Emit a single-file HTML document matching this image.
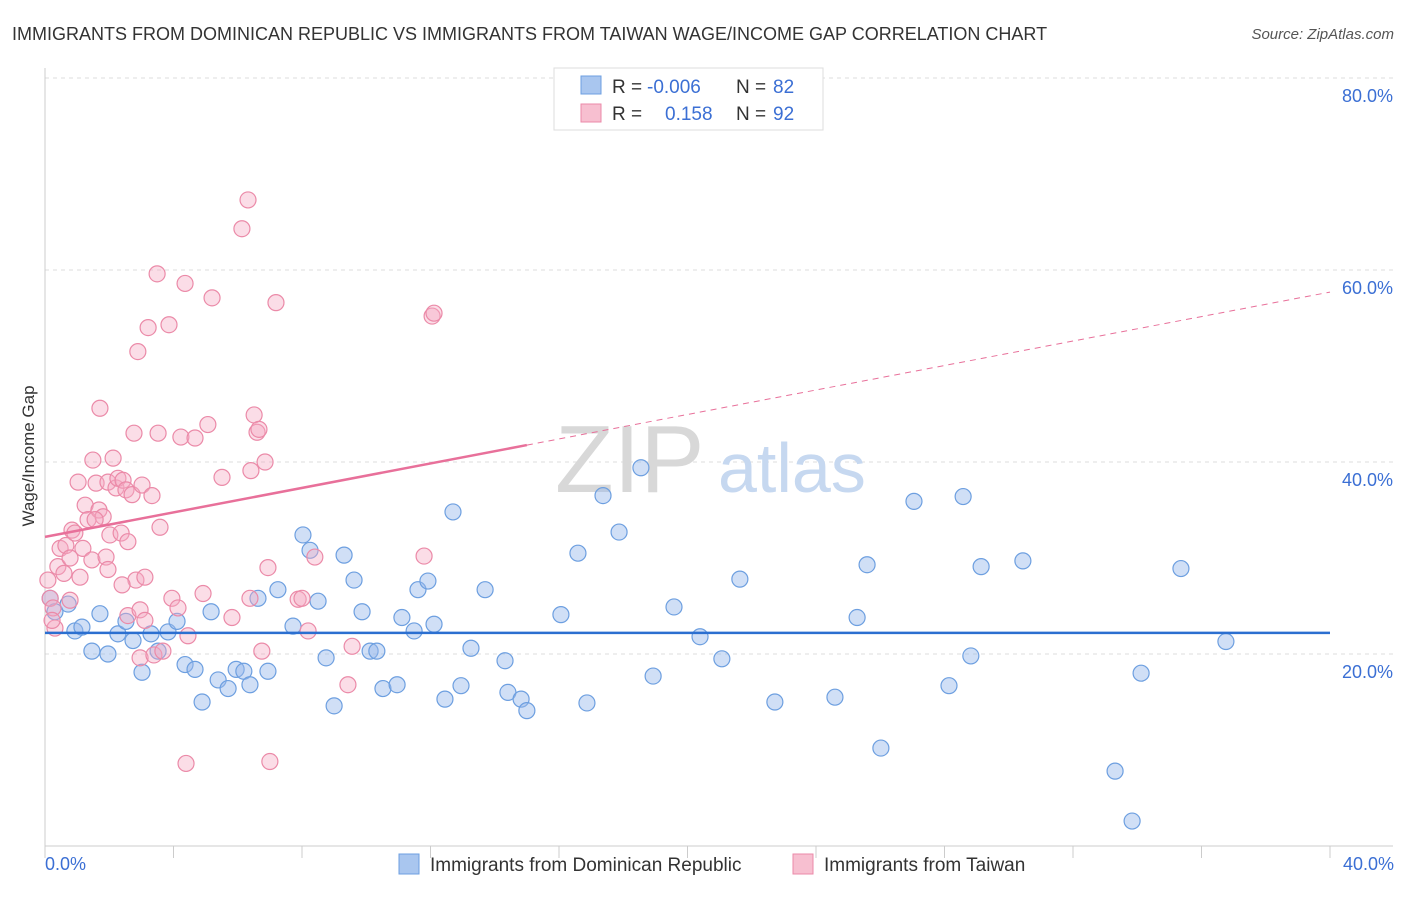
<!DOCTYPE html>
<html><head><meta charset="utf-8"><style>
body{margin:0;background:#fff;font-family:"Liberation Sans",sans-serif;}
svg text{font-family:"Liberation Sans",sans-serif;}
</style></head><body>
<svg id="chart" width="1406" height="892" xmlns="http://www.w3.org/2000/svg">
<text x="12" y="40" font-size="18" fill="#333">IMMIGRANTS FROM DOMINICAN REPUBLIC VS IMMIGRANTS FROM TAIWAN WAGE/INCOME GAP CORRELATION CHART</text>
<text x="1394" y="39" font-size="15" fill="#555" text-anchor="end" font-style="italic">Source: ZipAtlas.com</text>
<g id="grid"></g>
<g id="axes"></g>
<text x="555" y="492" font-size="96" fill="#d8d8d8" font-family="Liberation Serif">ZIP</text>
<text x="718" y="492" font-size="70" fill="#c6d8f0">atlas</text>
<g id="pts"></g>
<g id="trends"></g>
<text transform="translate(34,456) rotate(-90)" font-size="17" fill="#333" text-anchor="middle">Wage/Income Gap</text>
<text x="45" y="870" font-size="18" fill="#3b6fd4">0.0%</text>
<text x="1394" y="870" font-size="18" fill="#3b6fd4" text-anchor="end">40.0%</text>
<g>
<rect x="554" y="68" width="269" height="62" fill="#fff" stroke="#ddd"/>
<rect x="581" y="76" width="20" height="18" fill="#a9c6ef" stroke="#6d9fe0"/>
<rect x="581" y="104" width="20" height="18" fill="#f7bfd0" stroke="#eb8aa8"/>
<text x="612" y="93" font-size="19" fill="#333">R = </text><text x="647" y="93" font-size="19" fill="#3b6fd4">-0.006</text>
<text x="736" y="93" font-size="19" fill="#333">N = </text><text x="773" y="93" font-size="19" fill="#3b6fd4">82</text>
<text x="612" y="120" font-size="19" fill="#333">R = </text><text x="665" y="120" font-size="19" fill="#3b6fd4">0.158</text>
<text x="736" y="120" font-size="19" fill="#333">N = </text><text x="773" y="120" font-size="19" fill="#3b6fd4">92</text>
</g>
<g>
<rect x="399" y="854" width="20" height="20" fill="#a9c6ef" stroke="#6d9fe0"/>
<text x="430" y="871" font-size="19" fill="#333">Immigrants from Dominican Republic</text>
<rect x="793" y="854" width="20" height="20" fill="#f7bfd0" stroke="#eb8aa8"/>
<text x="824" y="871" font-size="19" fill="#333">Immigrants from Taiwan</text>
</g>
</svg>
<script>
const yTicks=[20,40,60,80];
const yTickLabels=["20.0%","40.0%","60.0%","80.0%"];
const xTicks=[0,4,8,12,16,20,24,28,32,36,40];
const blueX=[0.16,0.31,0.72,0.93,1.15,1.46,1.71,1.96,2.27,2.52,2.74,3.02,3.30,3.52,3.83,4.11,4.36,4.67,4.89,5.17,5.39,5.70,5.95,6.19,6.38,6.63,6.94,7.25,7.72,8.03,8.25,8.50,8.75,9.00,9.31,9.62,9.87,10.12,10.33,10.52,10.96,11.11,11.49,11.61,11.92,12.11,12.45,12.70,12.95,13.26,13.70,14.32,14.41,14.82,15.00,16.06,16.59,16.87,17.37,17.87,18.55,18.93,19.58,20.39,21.07,21.63,22.72,24.59,25.28,25.59,26.02,27.05,28.14,28.58,28.82,29.14,30.44,33.31,33.84,34.12,35.36,36.76];
const blueY=[25.8,24.4,25.2,22.4,22.8,20.3,24.2,20.0,22.1,23.4,21.4,18.1,22.1,20.3,22.3,23.4,18.9,18.4,15.0,24.4,17.3,16.4,18.4,18.2,16.8,25.8,18.2,26.7,22.9,32.4,30.8,25.5,19.6,14.6,30.3,27.7,24.4,20.3,20.3,16.4,16.8,23.8,22.4,26.7,27.6,23.1,15.3,34.8,16.7,20.6,26.7,19.3,16.0,15.3,14.1,24.1,30.5,14.9,36.5,32.7,39.4,17.7,24.9,21.8,19.5,27.8,15.0,15.5,23.8,29.3,10.2,35.9,16.7,36.4,19.8,29.1,29.7,7.8,2.6,18.0,28.9,21.3];
const pinkX=[0.09,0.16,0.25,0.31,0.40,0.47,0.59,0.65,0.78,0.84,0.93,1.03,1.09,1.18,1.25,1.34,1.46,1.49,1.59,1.68,1.71,1.81,1.90,1.96,2.02,2.12,2.21,2.27,2.37,2.43,2.52,2.58,2.71,2.77,2.83,2.89,2.96,3.02,3.11,3.21,3.33,3.39,3.49,3.52,3.58,3.67,3.86,3.95,4.14,4.23,4.36,4.45,4.67,4.92,5.07,5.20,5.51,5.82,6.13,6.32,6.38,6.41,6.51,6.60,6.66,6.75,6.85,6.94,7.00,7.19,7.88,8.00,8.19,8.40,9.43,9.56,11.80,12.05,12.11,4.39,2.58,2.96,1.96,2.40,1.56,0.78,3.11,0.22];
const pinkY=[27.7,25.8,24.8,22.7,29.1,31.0,28.4,31.3,30.0,32.9,32.6,37.9,28.0,31.0,35.5,34.0,29.8,40.2,37.8,35.0,45.6,34.3,30.1,37.9,32.4,40.4,37.3,38.3,32.6,38.1,37.1,31.7,36.6,43.0,27.7,51.5,19.6,37.6,28.0,54.0,36.5,19.9,59.6,43.0,33.2,20.3,54.3,25.8,24.8,42.6,58.6,21.9,42.5,26.3,43.9,57.1,38.4,23.8,64.3,67.3,25.8,39.1,44.9,43.1,43.4,20.3,40.0,29.0,8.8,56.6,25.7,25.8,22.4,30.1,16.8,20.8,30.2,55.2,55.5,8.6,24.0,24.6,28.8,27.2,34.0,25.6,23.5,23.5];
const blueTrend=[22.2,22.2];
const pinkTrend=[32.2,57.7];
const pinkSolidEnd=15.0;

const NS="http://www.w3.org/2000/svg";
const X0=45,X1=1330,YB=846,YT=78;
const sx=v=>X0+(v/40)*(X1-X0);
const sy=v=>YB-(v/80)*(YB-YT);
function mk(tag,attrs,parent){const e=document.createElementNS(NS,tag);for(const k in attrs)e.setAttribute(k,attrs[k]);parent.appendChild(e);return e;}
const grid=document.getElementById('grid'),axes=document.getElementById('axes'),pts=document.getElementById('pts'),tr=document.getElementById('trends');
yTicks.forEach((t,i)=>{
 const l=mk('line',{x1:X0,x2:1393,y1:sy(t),y2:sy(t),stroke:'#ddd','stroke-dasharray':'4,4'},grid);
 
 
 const tx=mk('text',{x:1393,y:sy(t)+24,'font-size':18,fill:'#3b6fd4','text-anchor':'end'},grid);
 tx.textContent=yTickLabels[i];
 
 
});
const ya=mk('line',{x1:X0,x2:X0,y1:68,y2:YB,stroke:'#ccc'},axes);


const xa=mk('line',{x1:X0,x2:1393,y1:YB,y2:YB,stroke:'#ccc'},axes);


xTicks.forEach(t=>{
 const l=mk('line',{x1:sx(t),x2:sx(t),y1:YB,y2:YB+12,stroke:'#ccc'},axes);
 
 
});
blueX.forEach((v,i)=>{
 const c=mk('circle',{cx:sx(v),cy:sy(blueY[i]),r:8,fill:'rgba(150,185,235,0.45)',stroke:'#6d9fe0','stroke-width':1.2},pts);
 
 
});
pinkX.forEach((v,i)=>{
 const c=mk('circle',{cx:sx(v),cy:sy(pinkY[i]),r:8,fill:'rgba(245,170,195,0.4)',stroke:'#eb8aa8','stroke-width':1.2},pts);
 
 
});
const bl=mk('line',{x1:sx(0),x2:sx(40),y1:sy(blueTrend[0]),y2:sy(blueTrend[1]),stroke:'#2b6fd0','stroke-width':2.5},tr);


const pAt=x=>pinkTrend[0]+(pinkTrend[1]-pinkTrend[0])*x/40;
const ps=mk('line',{x1:sx(0),x2:sx(pinkSolidEnd),y1:sy(pAt(0)),y2:sy(pAt(pinkSolidEnd)),stroke:'#e8709a','stroke-width':2.5},tr);


const pd=mk('line',{x1:sx(pinkSolidEnd),x2:sx(40),y1:sy(pAt(pinkSolidEnd)),y2:sy(pAt(40)),stroke:'#e8709a','stroke-width':1,'stroke-dasharray':'6,5'},tr);


</script>
</body></html>
